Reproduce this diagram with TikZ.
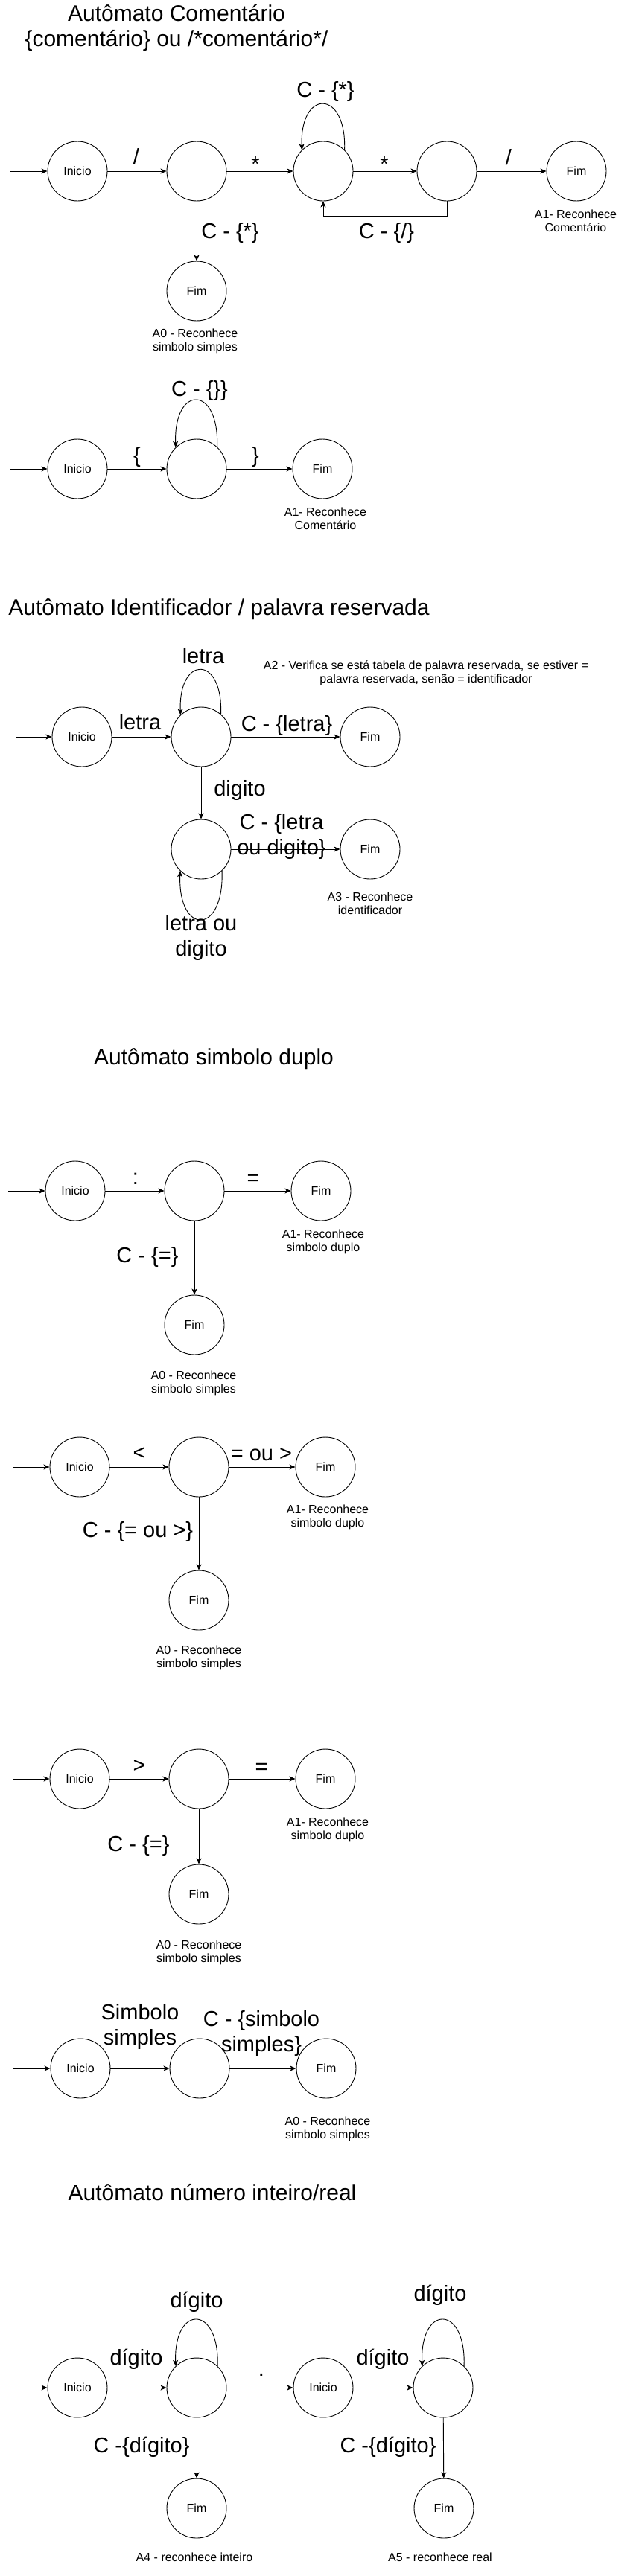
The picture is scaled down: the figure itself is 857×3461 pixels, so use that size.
\documentclass[tikz,border=0pt]{standalone}
\usepackage{fontspec}
\setmainfont{Liberation Sans}
\usetikzlibrary{arrows.meta}
\begin{document}
\begin{tikzpicture}[x=1pt,y=-1pt,
  st/.style={circle,draw,line width=0.9pt,minimum size=80pt,inner sep=0pt,font=\fontsize{16}{18}\selectfont},
  arr/.style={line width=0.9pt,-{Stealth[length=8pt,width=7pt,inset=2pt]}},
  lbl/.style={anchor=base,align=center,inner sep=0pt,font=\fontsize{29}{34}\selectfont},
  ttl/.style={anchor=base,align=center,inner sep=0pt,font=\fontsize{30}{34}\selectfont},
  note/.style={anchor=base,align=center,inner sep=0pt,font=\fontsize{16}{18}\selectfont},
]
\path[use as bounding box,fill=white] (0,0) rectangle (857,3461);

% ---------- Section 1 ----------
\node[ttl] (t1) at (237,62) {Autômato Comentário\\\{comentário\} ou /*comentário*/};
\node[st] (A1i) at (104,230) {Inicio};
\node[st] (A1a) at (264,230) {};
\node[st] (A1b) at (434,230) {};
\node[st] (A1c) at (600,230) {};
\node[st] (A1f) at (774,230) {Fim};
\node[st] (A1g) at (264,391) {Fim};
\coordinate (e1) at (14,230);
\draw[arr] (e1) -- (A1i);
\draw[arr] (A1i) -- (A1a);
\draw[arr] (A1a) -- (A1b);
\draw[arr] (A1b) -- (A1c);
\draw[arr] (A1c) -- (A1f);
\draw[arr] (A1a) -- (A1g);
\draw[arr] (A1b.45) .. controls +(3,-82) and +(-3,-82) .. (A1b.135);
\draw[arr] (A1c.south) -- ++(0,20) -| (A1b.south);
\node[lbl] (l1a) at (183,220) {/};
\node[lbl] (l1b) at (343,230) {*};
\node[lbl] (l1c) at (516,230) {*};
\node[lbl] (l1d) at (683,221) {/};
\node[lbl] (l1e) at (437,130) {C - \{*\}};
\node[lbl] (l1f) at (309,320) {C - \{*\}};
\node[lbl] (l1g) at (519,320) {C - \{/\}};
\node[note] (n1a) at (773,311) {A1- Reconhece\\Comentário};
\node[note] (n1b) at (262,471) {A0 - Reconhece\\simbolo simples};

% ---------- Section 2 ----------
\node[st] (B1i) at (104,630) {Inicio};
\node[st] (B1a) at (264,630) {};
\node[st] (B1f) at (433,630) {Fim};
\coordinate (e2) at (13,630);
\draw[arr] (e2) -- (B1i);
\draw[arr] (B1i) -- (B1a);
\draw[arr] (B1a) -- (B1f);
\draw[arr] (B1a.47) .. controls +(3,-84) and +(-3,-84) .. (B1a.134);
\node[lbl] (l2a) at (184,621) {\{};
\node[lbl] (l2b) at (343,621) {\}};
\node[lbl] (l2c) at (268,532) {C - \{\}\}};
\node[note] (n2a) at (437,711) {A1- Reconhece\\Comentário};

% ---------- Section 3 ----------
\node[ttl] (t3) at (294,826) {Autômato Identificador / palavra reservada};
\node[st] (C1i) at (110,990) {Inicio};
\node[st] (C1a) at (270,990) {};
\node[st] (C1f) at (497,990) {Fim};
\node[st] (C1b) at (270,1141) {};
\node[st] (C1g) at (497,1141) {Fim};
\coordinate (e3) at (21,990);
\draw[arr] (e3) -- (C1i);
\draw[arr] (C1i) -- (C1a);
\draw[arr] (C1a) -- (C1f);
\draw[arr] (C1a) -- (C1b);
\draw[arr] (C1b) -- (C1g);
\draw[arr] (C1a.49) .. controls +(3,-80) and +(-3,-80) .. (C1a.133);
\draw[arr] (C1b.-46) .. controls +(3,87) and +(-3,87) .. (C1b.226);
\node[lbl] (l3a) at (188,980) {letra};
\node[lbl] (l3b) at (273,891) {letra};
\node[lbl] (l3c) at (385,982) {C - \{letra\}};
\node[note] (n3a) at (572,917) {A2 - Verifica se está tabela de palavra reservada, se estiver =\\palavra reservada, senão = identificador};
\node[lbl] (l3d) at (322,1069) {digito};
\node[lbl] (l3e) at (378,1148) {C - \{letra\\ou digito\}};
\node[lbl] (l3f) at (270,1284) {letra ou\\digito};
\node[note] (n3b) at (497,1228) {A3 - Reconhece\\identificador};

% ---------- Section 4 ----------
\node[ttl] (t4) at (287,1430) {Autômato simbolo duplo};
\node[st] (D1i) at (101,1600) {Inicio};
\node[st] (D1a) at (261,1600) {};
\node[st] (D1f) at (431,1600) {Fim};
\node[st] (D1g) at (261,1780) {Fim};
\coordinate (e4) at (11,1600);
\draw[arr] (e4) -- (D1i);
\draw[arr] (D1i) -- (D1a);
\draw[arr] (D1a) -- (D1f);
\draw[arr] (D1a) -- (D1g);
\node[lbl] (l4a) at (182,1591) {:};
\node[lbl] (l4b) at (340,1592) {=};
\node[lbl] (l4c) at (198,1696) {C - \{=\}};
\node[note] (n4a) at (434,1681) {A1- Reconhece\\simbolo duplo};
\node[note] (n4b) at (260,1871) {A0 - Reconhece\\simbolo simples};

% ---------- Section 5 ----------
\node[st] (E1i) at (107,1971) {Inicio};
\node[st] (E1a) at (267,1971) {};
\node[st] (E1f) at (437,1971) {Fim};
\node[st] (E1g) at (267,2150) {Fim};
\coordinate (e5) at (17,1971);
\draw[arr] (e5) -- (E1i);
\draw[arr] (E1i) -- (E1a);
\draw[arr] (E1a) -- (E1f);
\draw[arr] (E1a) -- (E1g);
\node[lbl] (l5a) at (187,1961) {<};
\node[lbl] (l5b) at (351,1962) {= ou >};
\node[lbl] (l5c) at (185,2065) {C - \{= ou >\}};
\node[note] (n5a) at (440,2051) {A1- Reconhece\\simbolo duplo};
\node[note] (n5b) at (267,2240) {A0 - Reconhece\\simbolo simples};

% ---------- Section 6 ----------
\node[st] (F1i) at (107,2390) {Inicio};
\node[st] (F1a) at (267,2390) {};
\node[st] (F1f) at (437,2390) {Fim};
\node[st] (F1g) at (267,2545) {Fim};
\coordinate (e6) at (17,2390);
\draw[arr] (e6) -- (F1i);
\draw[arr] (F1i) -- (F1a);
\draw[arr] (F1a) -- (F1f);
\draw[arr] (F1a) -- (F1g);
\node[lbl] (l6a) at (187,2381) {>};
\node[lbl] (l6b) at (351,2383) {=};
\node[lbl] (l6c) at (186,2487) {C - \{=\}};
\node[note] (n6a) at (440,2471) {A1- Reconhece\\simbolo duplo};
\node[note] (n6b) at (267,2636) {A0 - Reconhece\\simbolo simples};

% ---------- Section 7 ----------
\node[st] (G1i) at (108,2779) {Inicio};
\node[st] (G1a) at (268,2779) {};
\node[st] (G1f) at (438,2779) {Fim};
\coordinate (e7) at (18,2779);
\draw[arr] (e7) -- (G1i);
\draw[arr] (G1i) -- (G1a);
\draw[arr] (G1a) -- (G1f);
\node[lbl] (l7a) at (188,2747) {Simbolo\\simples};
\node[lbl] (l7b) at (351,2756) {C - \{simbolo\\simples\}};
\node[note] (n7a) at (440,2873) {A0 - Reconhece\\simbolo simples};

% ---------- Section 8 ----------
\node[ttl] (t8) at (285,2956) {Autômato número inteiro/real};
\node[st] (H1i) at (104,3208) {Inicio};
\node[st] (H1a) at (264,3208) {};
\node[st] (H2i) at (434,3208) {Inicio};
\node[st] (H2a) at (595,3208) {};
\node[st] (H1f) at (264,3370) {Fim};
\node[st] (H2f) at (596,3370) {Fim};
\coordinate (e8) at (14,3208);
\draw[arr] (e8) -- (H1i);
\draw[arr] (H1i) -- (H1a);
\draw[arr] (H1a) -- (H2i);
\draw[arr] (H2i) -- (H2a);
\draw[arr] (H1a) -- (H1f);
\draw[arr] (H2a) -- (H2f);
\draw[arr] (H1a.46) .. controls +(3,-83) and +(-3,-83) .. (H1a.134);
\draw[arr] (H2a.46) .. controls +(3,-83) and +(-3,-83) .. (H2a.134);
\node[lbl] (l8a) at (183,3177) {dígito};
\node[lbl] (l8b) at (264,3100) {dígito};
\node[lbl] (l8c) at (351,3192) {.};
\node[lbl] (l8d) at (514,3177) {dígito};
\node[lbl] (l8e) at (591,3091) {dígito};
\node[lbl] (l8f) at (190,3295) {C -\{dígito\}};
\node[lbl] (l8g) at (521,3295) {C -\{dígito\}};
\node[note] (n8a) at (261,3441) {A4 - reconhece inteiro};
\node[note] (n8b) at (591,3441) {A5 - reconhece real};
\end{tikzpicture}
\end{document}
